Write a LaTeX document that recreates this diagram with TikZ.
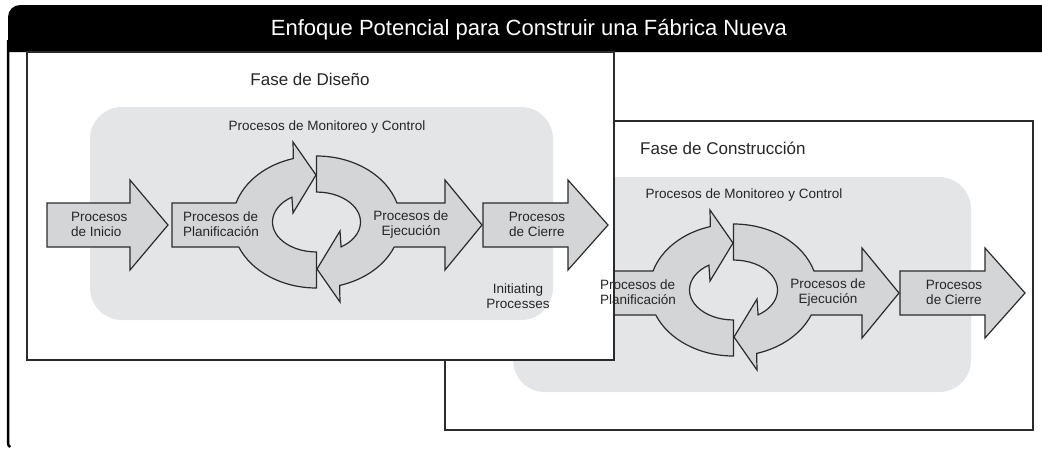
\documentclass[tikz,border=0pt]{standalone}
\usepackage{fontspec}
\setmainfont{Liberation Sans}
\definecolor{arrowgray}{HTML}{D3D5D7}
\definecolor{panelgray}{HTML}{E3E5E7}
\definecolor{linegray}{HTML}{2B2B2B}
% planning arc, execution arc and closing arrow of one phase
\newcommand{\cyclearrows}{%
  \filldraw[flowarrow] (172,203) -- (236.05,203) % planning body and left arc
    arc[start angle=196.7, end angle=254, x radius=84, y radius=66]
    -- (293,142) -- (316,175) -- (293,213) -- (291.9,197.1)
    arc[start angle=236, end angle=90, x radius=44, y radius=30]
    -- (316.5,288)
    arc[start angle=90, end angle=157.7, x radius=84, y radius=66]
    -- (172,247) -- cycle;
  \filldraw[flowarrow] (316.5,156) % right arc and execution body
    arc[start angle=270, end angle=343.3, x radius=84, y radius=66]
    -- (445,203) -- (445,180) -- (482,225) -- (445,270) -- (445,247) -- (394.2,247)
    arc[start angle=22.3, end angle=74, x radius=84, y radius=66]
    -- (340,302) -- (317,269) -- (340,231) -- (341.1,246.9)
    arc[start angle=56, end angle=-90, x radius=44, y radius=30]
    -- cycle;
  \filldraw[flowarrow] (483,203) -- (568,203) -- (568,180) -- (608,225) -- (568,270) -- (568,247) -- (483,247) -- cycle; % closing
}
\begin{document}
\begin{tikzpicture}[x=1pt,y=-1pt,
    flowarrow/.style={fill=arrowgray, draw=linegray, line width=1.2pt, line join=miter},
    phasebox/.style={fill=white, draw=linegray, line width=1.6pt},
    panel/.style={fill=panelgray, rounded corners=32pt},
    lbl/.style={inner sep=0pt, text=black!85, font=\fontsize{13.5}{15}\selectfont}]
    \useasboundingbox (0,0) rectangle (1042,451);
    % outer frame with black header
    \fill[black] (8,52) -- (8,17) arc[start angle=180, end angle=270, radius=12] -- (1042,5) -- (1042,52) -- cycle;
    \draw[line width=2.5pt] (8,40) -- (8,443) arc[start angle=180, end angle=125, radius=5];
    % construction phase (behind)
    \filldraw[phasebox] (445,121) rectangle (1033,430);
    \fill[panel] (513,177) rectangle (971,392);
    \begin{scope}[shift={(417,68)}]
        \cyclearrows
    \end{scope}
    % design phase (in front)
    \filldraw[phasebox] (27,52) rectangle (614,360);
    \fill[panel] (90,107) rectangle (553,320);
    \filldraw[flowarrow] (47,203) -- (130,203) -- (130,180) -- (168,225) -- (130,270) -- (130,247) -- (47,247) -- cycle; % initiating
    \cyclearrows
    % texts
    \node[text=white, inner sep=0pt, font=\fontsize{22}{26}\selectfont, anchor=base] (title) at (529,35) {Enfoque Potencial para Construir una Fábrica Nueva};
    \node[lbl, font=\fontsize{17}{20}\selectfont, anchor=base] (fase-dis) at (310,85.7) {Fase de Diseño};
    \node[lbl, font=\fontsize{17}{20}\selectfont, anchor=base west] (fase-con) at (640,154) {Fase de Construcción};
    \node[lbl, align=left, anchor=west] (ini-dis) at (71,224.5) {Procesos\\de Inicio};
    \node[lbl, align=center] (initiating) at (518,296) {Initiating\\Processes};
    \foreach \dx/\dy/\ph in {0/0/dis,417/68/con}{
        \node[lbl, anchor=base] (mon-\ph) at (327+\dx,130+\dy) {Procesos de Monitoreo y Control};
        \node[lbl, align=left, anchor=west] (plan-\ph) at (183+\dx,224.5+\dy) {Procesos de\\Planificación};
        \node[lbl, align=center] (ejec-\ph) at (411+\dx,224.5+\dy) {Procesos de\\Ejecución};
        \node[lbl, align=center] (cierre-\ph) at (537+\dx,224.5+\dy) {Procesos\\de Cierre};
    }
\end{tikzpicture}
\end{document}
